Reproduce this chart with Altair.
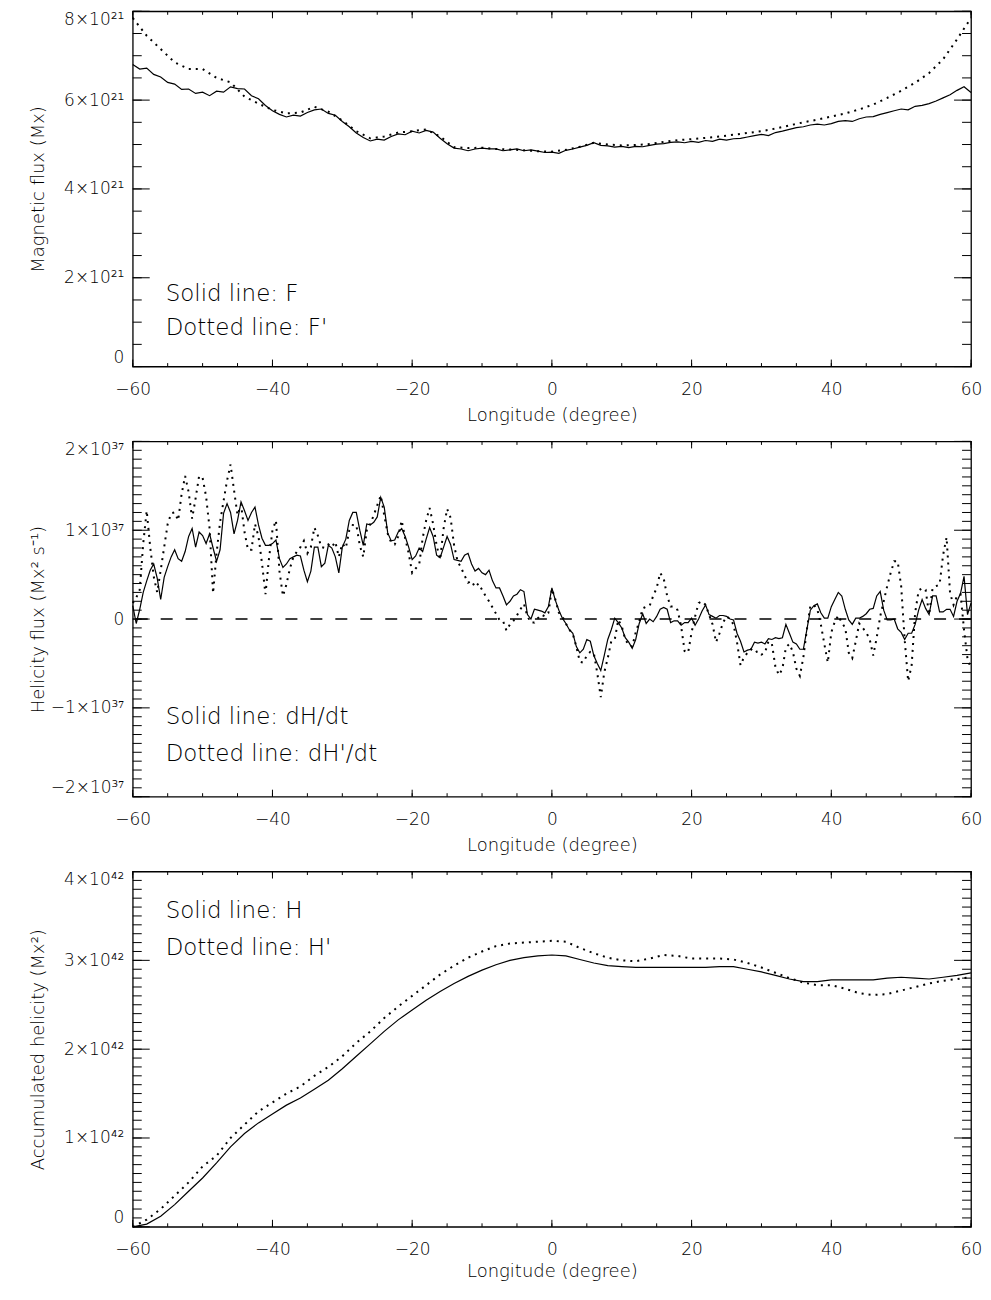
import altair as alt
import pandas as pd

# ---------------- data ----------------
LON_FINE = [round(-60 + 0.5 * i, 1) for i in range(241)]
LON_1DEG = list(range(-60, 61))
LON_COARSE = list(range(-60, 61, 2))

# Panel 1: magnetic flux, units of 1e21 Mx
FLUX_F = [6.80, 6.70, 6.72, 6.58, 6.52, 6.40, 6.36, 6.24, 6.25, 6.15,
          6.18, 6.10, 6.20, 6.18, 6.30, 6.26, 6.25, 6.10, 6.03, 5.88,
          5.76, 5.68, 5.62, 5.66, 5.64, 5.72, 5.78, 5.80, 5.70, 5.66,
          5.52, 5.40, 5.26, 5.16, 5.08, 5.12, 5.10, 5.18, 5.24, 5.22,
          5.30, 5.26, 5.32, 5.28, 5.14, 5.02, 4.92, 4.90, 4.86, 4.90,
          4.92, 4.90, 4.90, 4.86, 4.88, 4.90, 4.86, 4.88, 4.85, 4.82,
          4.83, 4.80, 4.87, 4.90, 4.94, 4.98, 5.04, 4.98, 4.97, 4.94,
          4.96, 4.93, 4.96, 4.95, 4.98, 5.01, 5.02, 5.05, 5.06, 5.04,
          5.07, 5.05, 5.09, 5.07, 5.12, 5.10, 5.13, 5.14, 5.17, 5.20,
          5.23, 5.20, 5.27, 5.30, 5.34, 5.38, 5.40, 5.44, 5.46, 5.44,
          5.47, 5.52, 5.54, 5.52, 5.58, 5.62, 5.63, 5.68, 5.72, 5.76,
          5.80, 5.78, 5.86, 5.88, 5.92, 5.98, 6.05, 6.12, 6.22, 6.30,
          6.17]
FLUX_FP = [7.85, 7.45, 7.15, 6.85, 6.70, 6.70, 6.50, 6.40, 6.08, 5.92,
           5.78, 5.70, 5.72, 5.85, 5.74, 5.54, 5.30, 5.14, 5.18, 5.27,
           5.30, 5.34, 5.18, 4.94, 4.92, 4.93, 4.90, 4.89, 4.87, 4.85,
           4.84, 4.88, 4.95, 5.04, 5.00, 4.98, 4.99, 5.01, 5.06, 5.10,
           5.12, 5.15, 5.18, 5.22, 5.26, 5.30, 5.36, 5.43, 5.50, 5.56,
           5.63, 5.70, 5.79, 5.90, 6.05, 6.21, 6.39, 6.61, 6.92, 7.37,
           7.85]

# Panel 2: helicity flux, units of 1e37 Mx^2 s^-1 (0.5-degree steps)
HEL_DHDT = [
    0.15, -0.05, 0.11, 0.30, 0.43, 0.55, 0.62, 0.46, 0.22, 0.47,
    0.59, 0.70, 0.78, 0.68, 0.65, 0.76, 0.93, 1.02, 0.81, 0.98,
    0.94, 0.85, 0.96, 0.80, 0.65, 0.78, 1.19, 1.30, 1.20, 0.96,
    1.11, 1.32, 1.22, 1.11, 1.20, 1.26, 1.06, 0.91, 0.83, 0.83,
    0.85, 0.89, 0.68, 0.58, 0.62, 0.68, 0.70, 0.72, 0.71, 0.55,
    0.42, 0.54, 0.81, 0.81, 0.59, 0.63, 0.83, 0.80, 0.70, 0.52,
    0.81, 0.90, 1.11, 1.20, 1.20, 1.00, 0.83, 1.07, 1.06, 1.09,
    1.15, 1.37, 1.26, 0.97, 0.88, 0.89, 0.98, 1.02, 0.93, 0.81,
    0.67, 0.71, 0.80, 0.76, 0.90, 1.03, 0.93, 0.72, 0.69, 0.81,
    0.93, 0.84, 0.67, 0.66, 0.65, 0.72, 0.74, 0.62, 0.54, 0.57,
    0.52, 0.50, 0.55, 0.43, 0.35, 0.35, 0.26, 0.16, 0.20, 0.26,
    0.28, 0.33, 0.31, 0.05, 0.00, 0.11, 0.10, 0.09, 0.07, 0.14,
    0.35, 0.21, 0.10, 0.01, -0.05, -0.12, -0.16, -0.31, -0.38, -0.34,
    -0.23, -0.25, -0.41, -0.50, -0.58, -0.41, -0.23, -0.12, 0.01, -0.04,
    -0.10, -0.21, -0.26, -0.33, -0.23, -0.05, 0.06, -0.05, 0.00, -0.03,
    0.03, 0.11, 0.13, 0.11, -0.04, -0.02, -0.02, -0.07, -0.04, -0.04,
    0.01, -0.07, 0.00, 0.09, 0.16, 0.05, 0.03, 0.01, 0.04, 0.04,
    0.03, 0.00, -0.01, -0.16, -0.25, -0.37, -0.35, -0.34, -0.26, -0.27,
    -0.26, -0.28, -0.22, -0.23, -0.21, -0.22, -0.21, -0.06, -0.16, -0.26,
    -0.28, -0.34, -0.34, -0.12, 0.10, 0.15, 0.17, 0.07, 0.01, 0.01,
    0.14, 0.22, 0.30, 0.26, 0.11, -0.01, -0.06, 0.01, 0.01, 0.03,
    0.06, 0.11, 0.12, 0.26, 0.31, 0.10, -0.01, -0.01, 0.00, -0.11,
    -0.15, -0.23, -0.16, -0.16, -0.06, 0.10, 0.22, 0.12, 0.05, 0.26,
    0.26, 0.08, 0.08, 0.11, 0.11, 0.03, 0.20, 0.29, 0.48, 0.05,
    0.18]
HEL_DHPDT = [
    0.18, 0.24, 0.33, 0.85, 1.22, 0.81, 0.48, 0.30, 0.55, 0.81,
    1.07, 1.19, 1.20, 1.11, 1.41, 1.61, 1.43, 1.13, 1.36, 1.61,
    1.59, 1.38, 1.02, 0.29, 0.74, 1.09, 1.33, 1.56, 1.74, 1.45,
    1.17, 1.29, 0.98, 0.78, 0.78, 1.07, 0.93, 0.63, 0.28, 0.68,
    1.00, 1.11, 0.54, 0.26, 0.39, 0.57, 0.70, 0.76, 0.81, 0.88,
    0.74, 0.81, 1.03, 0.94, 0.81, 0.80, 0.84, 0.81, 0.87, 0.70,
    0.85, 0.80, 1.00, 1.06, 1.06, 0.83, 0.70, 1.00, 1.07, 1.17,
    1.28, 1.39, 1.17, 0.96, 0.86, 0.84, 0.93, 1.11, 0.91, 0.74,
    0.52, 0.57, 0.61, 0.91, 1.11, 1.25, 1.07, 0.83, 0.67, 1.02,
    1.24, 1.14, 0.83, 0.65, 0.58, 0.49, 0.41, 0.43, 0.36, 0.40,
    0.33, 0.26, 0.20, 0.13, 0.06, -0.01, -0.02, -0.13, -0.06, -0.02,
    0.04, 0.11, 0.17, 0.03, -0.04, -0.04, 0.01, 0.05, 0.03, 0.07,
    0.34, 0.22, 0.07, 0.03, -0.05, -0.12, -0.17, -0.31, -0.48, -0.49,
    -0.41, -0.37, -0.38, -0.61, -0.88, -0.60, -0.44, -0.25, -0.23, -0.01,
    -0.08, -0.23, -0.29, -0.31, -0.15, -0.03, 0.12, 0.14, 0.15, 0.26,
    0.35, 0.52, 0.46, 0.26, 0.14, 0.14, 0.10, -0.08, -0.36, -0.38,
    -0.15, 0.03, 0.18, 0.20, 0.16, 0.05, -0.06, -0.26, -0.16, -0.04,
    0.03, 0.00, -0.06, -0.26, -0.52, -0.43, -0.38, -0.34, -0.38, -0.36,
    -0.40, -0.38, -0.25, -0.28, -0.54, -0.63, -0.56, -0.32, -0.28, -0.37,
    -0.56, -0.64, -0.43, -0.12, 0.15, 0.16, 0.11, -0.06, -0.28, -0.49,
    -0.15, -0.03, 0.04, -0.04, -0.10, -0.38, -0.44, -0.25, -0.05, -0.10,
    -0.15, -0.23, -0.41, -0.21, 0.03, 0.20, 0.37, 0.52, 0.65, 0.65,
    0.37, -0.23, -0.70, -0.52, 0.07, 0.32, 0.35, 0.33, 0.05, 0.35,
    0.37, 0.39, 0.72, 0.92, 0.29, 0.16, 0.26, 0.28, -0.12, -0.45,
    -0.56]

# Panel 3: accumulated helicity, units of 1e42 Mx^2 (2-degree steps)
ACC_H = [0.00, 0.03, 0.12, 0.25, 0.40, 0.55, 0.72, 0.90, 1.05, 1.17,
         1.27, 1.37, 1.45, 1.55, 1.65, 1.78, 1.92, 2.06, 2.20, 2.33,
         2.44, 2.55, 2.65, 2.74, 2.82, 2.89, 2.95, 3.00, 3.03, 3.05,
         3.06, 3.05, 3.01, 2.97, 2.94, 2.93, 2.92, 2.92, 2.92, 2.92,
         2.92, 2.92, 2.93, 2.93, 2.90, 2.87, 2.83, 2.79, 2.76, 2.76,
         2.78, 2.78, 2.78, 2.78, 2.80, 2.81, 2.80, 2.79, 2.81, 2.83,
         2.86]
ACC_HP = [0.00, 0.08, 0.20, 0.35, 0.50, 0.68, 0.80, 1.00, 1.15, 1.30,
          1.40, 1.50, 1.58, 1.70, 1.80, 1.92, 2.07, 2.20, 2.35, 2.48,
          2.60, 2.72, 2.84, 2.94, 3.03, 3.10, 3.16, 3.19, 3.20, 3.21,
          3.22, 3.21, 3.14, 3.08, 3.03, 3.00, 2.99, 3.02, 3.06, 3.05,
          3.02, 3.02, 3.02, 3.01, 2.97, 2.92, 2.86, 2.80, 2.75, 2.72,
          2.72, 2.68, 2.63, 2.61, 2.62, 2.66, 2.70, 2.74, 2.77, 2.79,
          2.81]

# axis ticks and labels
X_MAJOR = [-60, -40, -20, 0, 20, 40, 60]
X_MINOR = list(range(-60, 61, 5))
FLUX_TICKS = [0, 2, 4, 6, 8]
FLUX_LABELS = ["0", "2×10²¹", "4×10²¹", "6×10²¹", "8×10²¹"]
FLUX_MINOR = [0.5 * i for i in range(17)]
HEL_TICKS = [-2, -1, 0, 1, 2]
HEL_LABELS = ["−2×10³⁷", "−1×10³⁷", "0", "1×10³⁷", "2×10³⁷"]
HEL_MINOR = [round(-2 + 0.1 * i, 1) for i in range(41)]
ACC_TICKS = [0, 1, 2, 3, 4]
ACC_LABELS = ["0", "1×10⁴²", "2×10⁴²", "3×10⁴²", "4×10⁴²"]
ACC_MINOR = [round(0.1 * i, 1) for i in range(41)]

# ---------------- chart ----------------
W, H = 840, 356
FONT = "DejaVu Sans"
WEIGHT = 200


def label_expr(vals, labels):
    parts = [f"datum.value == {v} ? '{l}'" for v, l in zip(vals, labels)]
    return " : ".join(parts) + " : ''"


def panel(solid, dotted, ydom, yticks, ylabels, yminor, ytitle, texts,
          zero=False, xtitle_y=54):
    xs = alt.Scale(domain=[-60, 60], nice=False, zero=False)
    ys = alt.Scale(domain=ydom, nice=False, zero=False)
    xaxis = alt.Axis(values=X_MAJOR, ticks=False, domain=False, grid=False,
                     labelFlush=False, labelPadding=15, labelFontSize=17,
                     labelFont=FONT, labelFontWeight=WEIGHT, labelColor="black",
                     title="Longitude (degree)", titleFont=FONT, titleFontSize=18,
                     titleFontWeight=WEIGHT, titleColor="black", titleY=xtitle_y,
                     titleBaseline="alphabetic")
    yaxis = alt.Axis(values=yticks, labelExpr=label_expr(yticks, ylabels),
                     ticks=False, domain=False, grid=False, labelFlush=True,
                     labelPadding=9, labelFontSize=17, labelFont=FONT,
                     labelFontWeight=WEIGHT, labelColor="black", title=ytitle,
                     titleFont=FONT, titleFontSize=18, titleFontWeight=WEIGHT,
                     titleColor="black", titleX=-89, titleY=H / 2, titleAngle=270,
                     titleBaseline="alphabetic", titleAlign="center")
    X = lambda f: alt.X(f, scale=xs, axis=xaxis)
    Y = lambda f: alt.Y(f, scale=ys, axis=yaxis)
    df_s = pd.DataFrame({"lon": solid[0], "v": solid[1]})
    df_d = pd.DataFrame({"lon": dotted[0], "v": dotted[1]})
    line_s = alt.Chart(df_s).mark_line(color="black", strokeWidth=1.2).encode(
        x=X("lon:Q"), y=Y("v:Q"))
    line_d = alt.Chart(df_d).mark_line(color="black", strokeWidth=2,
                                       strokeDash=[2, 5]).encode(
        x=X("lon:Q"), y=Y("v:Q"))
    layers = [line_s, line_d]
    if zero:
        layers.append(alt.Chart(pd.DataFrame({"v": [0]})).mark_rule(
            color="black", strokeWidth=1.5, strokeDash=[12, 13]).encode(
            y=Y("v:Q")))
    for vals, ln in ((yticks, 17), (yminor, 9)):
        d = alt.Chart(pd.DataFrame({"v": vals}))
        layers.append(d.mark_rule(color="black", strokeWidth=1).encode(
            y=Y("v:Q"), x=alt.value(0), x2=alt.value(ln)))
        layers.append(d.mark_rule(color="black", strokeWidth=1).encode(
            y=Y("v:Q"), x=alt.value(W - ln), x2=alt.value(W)))
    for vals, ln in ((X_MAJOR, 7), (X_MINOR, 3.5)):
        d = alt.Chart(pd.DataFrame({"v": vals}))
        layers.append(d.mark_rule(color="black", strokeWidth=1).encode(
            x=X("v:Q"), y=alt.value(H - ln), y2=alt.value(H)))
        layers.append(d.mark_rule(color="black", strokeWidth=1).encode(
            x=X("v:Q"), y=alt.value(0), y2=alt.value(ln)))
    for txt, ty in texts:
        layers.append(alt.Chart(pd.DataFrame({"t": [txt]})).mark_text(
            align="left", baseline="middle", font=FONT, fontSize=23,
            fontWeight=WEIGHT, color="black").encode(
            text="t:N", x=alt.value(33), y=alt.value(ty)))
    return alt.layer(*layers).properties(width=W, height=H)


p1 = panel((LON_1DEG, FLUX_F), (LON_COARSE, FLUX_FP), [0, 8], FLUX_TICKS, FLUX_LABELS,
           FLUX_MINOR, "Magnetic flux (Mx)",
           [("Solid line: F", 283), ("Dotted line: F'", 317)])
p2 = panel((LON_FINE, HEL_DHDT), (LON_FINE, HEL_DHPDT), [-2, 2], HEL_TICKS, HEL_LABELS,
           HEL_MINOR, "Helicity flux (Mx² s⁻¹)",
           [("Solid line: dH/dt", 276), ("Dotted line: dH'/dt", 313)], zero=True)
p3 = panel((LON_COARSE, ACC_H), (LON_COARSE, ACC_HP), [0, 4], ACC_TICKS, ACC_LABELS,
           ACC_MINOR, "Accumulated helicity (Mx²)",
           [("Solid line: H", 40), ("Dotted line: H'", 77)], xtitle_y=50)

chart = alt.vconcat(p1, p2, p3, spacing=75, bounds="flush").properties(
    padding={"left": 21, "top": 0, "right": 0, "bottom": 0},
    background="white",
).configure_view(stroke="black", strokeWidth=1.3)

chart.save("out.html", embed_options={"renderer": "svg", "actions": False})
